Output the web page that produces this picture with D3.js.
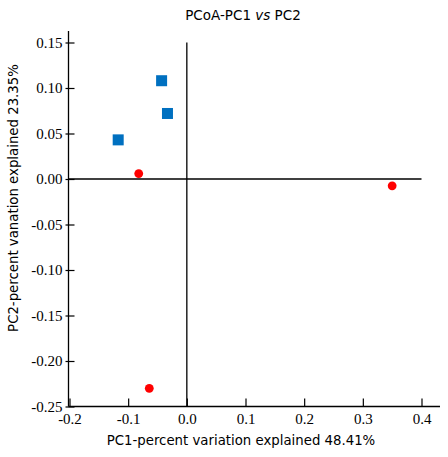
<!DOCTYPE html>
<html><head><meta charset="utf-8">
<script src="https://cdn.jsdelivr.net/npm/d3@7"></script>
<style>body{margin:0;background:#fff}</style>
</head><body>
<svg id="c" width="448" height="457"></svg>
<script>
const squares = [
  {x: -0.043, y: 0.108},
  {x: -0.033, y: 0.072},
  {x: -0.117, y: 0.043}
];
const circles = [
  {x: -0.082, y: 0.006},
  {x: 0.350, y: -0.0075},
  {x: -0.064, y: -0.230}
];
const xTicks = [-0.2, -0.1, 0.0, 0.1, 0.2, 0.3, 0.4];
const yTicks = [0.15, 0.10, 0.05, 0.00, -0.05, -0.10, -0.15, -0.20, -0.25];
const title = "PCoA-PC1 ";
const xTitle = "PC1-percent variation explained 48.41%";
const yTitle = "PC2-percent vanation explained 23.35%";

const svg = d3.select("#c");
const x = d3.scaleLinear().domain([-0.2, 0.4]).range([69.5, 421.5]);
const y = d3.scaleLinear().domain([-0.25, 0.15]).range([406.5, 42.5]);
const left = 68.5, bottom = 406.5;
const serif = "'Liberation Serif', 'DejaVu Serif', serif";
const sans = "'DejaVu Sans', sans-serif";

// axes lines
svg.append("line").attr("x1", left).attr("x2", left).attr("y1", 31).attr("y2", bottom).attr("stroke", "#000").attr("stroke-width", 1.3);
svg.append("line").attr("x1", left).attr("x2", 440).attr("y1", bottom).attr("y2", bottom).attr("stroke", "#000").attr("stroke-width", 1.3);

// y ticks
const yAxis = d3.axisLeft(y).tickValues(yTicks).tickFormat(d => d.toFixed(2)).tickSize(0);
const gy = svg.append("g").attr("transform", `translate(${left},0)`).call(yAxis);
gy.attr("font-family", serif).attr("font-size", 15);
gy.select(".domain").remove();
gy.selectAll("text").attr("x", -6).attr("fill", "#000");
gy.selectAll(".tick").append("line").attr("x1", -3).attr("x2", 6).attr("stroke", "#000").attr("stroke-width", 1.2);

// x ticks
const xAxis = d3.axisBottom(x).tickValues(xTicks).tickFormat(d => d.toFixed(1)).tickSize(0);
const gx = svg.append("g").attr("transform", `translate(0,${bottom})`).call(xAxis);
gx.attr("font-family", serif).attr("font-size", 15);
gx.select(".domain").remove();
gx.selectAll("text").attr("y", 7).attr("fill", "#000");
gx.selectAll(".tick").append("line").attr("y1", 0).attr("y2", -8).attr("stroke", "#000").attr("stroke-width", 1.2);

// zero lines
svg.append("line").attr("x1", x(0)).attr("x2", x(0)).attr("y1", y(0.15)).attr("y2", bottom).attr("stroke", "#000").attr("stroke-width", 1.3);
svg.append("line").attr("x1", left).attr("x2", x(0.4)).attr("y1", y(0)).attr("y2", y(0)).attr("stroke", "#000").attr("stroke-width", 1.3);

// points
const s = 11;
svg.selectAll("rect.pt").data(squares).enter().append("rect").attr("class", "pt")
  .attr("x", d => x(d.x) - s/2).attr("y", d => y(d.y) - s/2).attr("width", s).attr("height", s).attr("fill", "#0070C0");
svg.selectAll("circle.pt").data(circles).enter().append("circle").attr("class", "pt")
  .attr("cx", d => x(d.x)).attr("cy", d => y(d.y)).attr("r", 4.4).attr("fill", "#FF0000");

// titles
const t = svg.append("text").attr("x", 243).attr("y", 20).attr("text-anchor", "middle").attr("font-family", sans).attr("font-size", 13.5).attr("fill", "#000");
t.append("tspan").text(title);
t.append("tspan").attr("font-style", "italic").text("vs");
t.append("tspan").text(" PC2");
svg.append("text").attr("x", 241).attr("y", 445).attr("text-anchor", "middle").attr("font-family", sans).attr("font-size", 13.3).attr("fill", "#000").text(xTitle);
svg.append("text").attr("transform", "translate(18,198) rotate(-90)").attr("text-anchor", "middle").attr("font-family", sans).attr("font-size", 13.3).attr("fill", "#000").text(yTitle);
</script>
</body></html>
